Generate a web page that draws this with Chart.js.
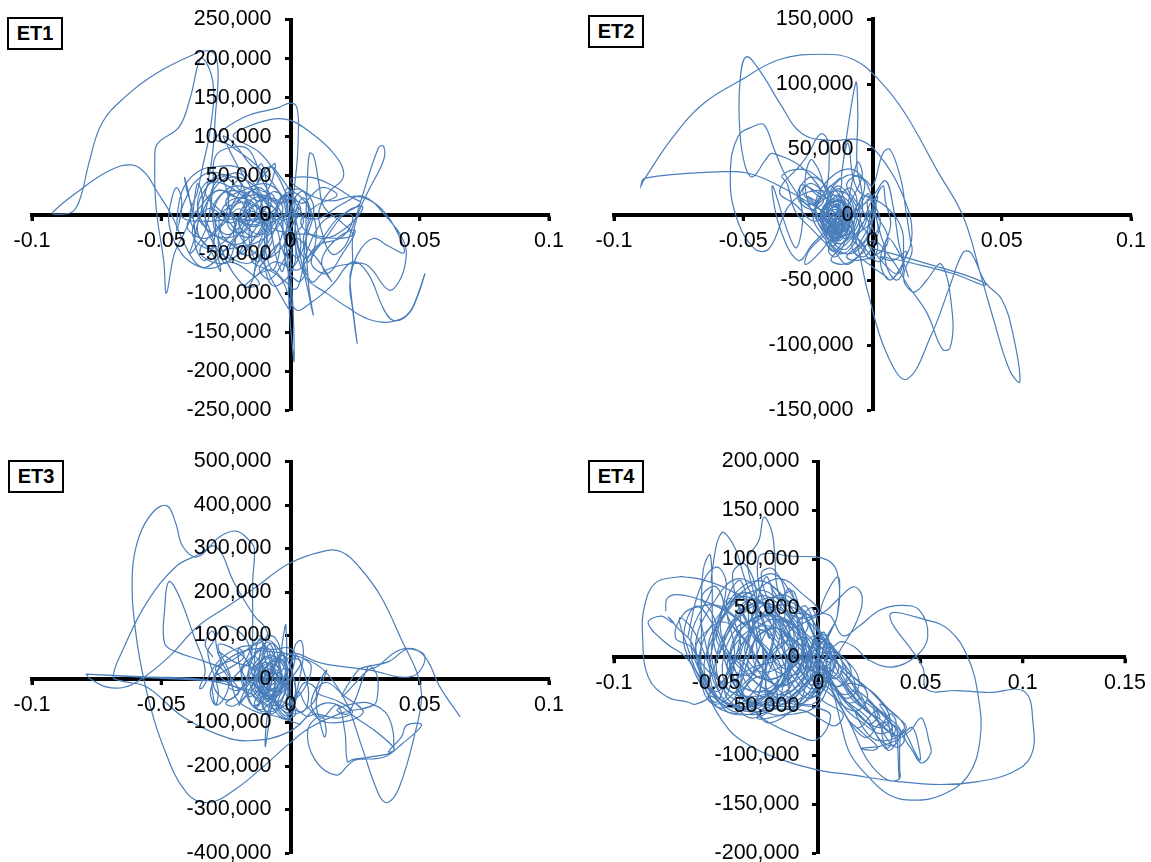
<!DOCTYPE html>
<html>
<head>
<meta charset="utf-8">
<script src="https://cdn.jsdelivr.net/npm/chart.js@4"></script>
<style>
  html, body { margin: 0; padding: 0; background: #fff; }
  body { position: relative; width: 1151px; height: 862px; overflow: hidden; }
  canvas { position: absolute; left: -50px; top: -50px; }
  .tag {
    position: absolute; box-sizing: border-box; height: 33px; width: 56px;
    border: 2px solid #000; background: #fff; color: #000;
    font: bold 20px "Liberation Sans", Arial, sans-serif; line-height: 29px; text-align: center;
  }
</style>
</head>
<body>
<div class="tag" style="left:7px;top:17px">ET1</div>
<div class="tag" style="left:588px;top:15px">ET2</div>
<div class="tag" style="left:8px;top:460px">ET3</div>
<div class="tag" style="left:588px;top:460px">ET4</div>
<canvas id="et1" width="1251" height="962"></canvas>
<canvas id="et2" width="1251" height="962"></canvas>
<canvas id="et3" width="1251" height="962"></canvas>
<canvas id="et4" width="1251" height="962"></canvas>
<script>
// Hysteresis traces, point by point.
// Each pair is [drift in 1/1000, shear in thousands].
const et1Trace = [
  [-22,-30],[-28,-55],[-33,-67],[-37,-60],[-42,-30],[-46,0],[-52,32],[-56,53],[-61.5,64],[-70,57],[-81,33],[-92,3],
  [-89,1],[-84,5],[-81,25],[-78,66],[-73,117],[-64,151],[-52,181],[-37,206],[-32,210],[-29,204],[-28,177],[-29,130],
  [-30,83],[-32,40],[-34,10],[-30,-30],[-27,-72],[-31,-45],[-36,-25],[-39,-2],[-36,30],[-34,62],[-31,110],[-30,170],
  [-34.5,200],[-38.7,151],[-43,113],[-51.5,91],[-52.5,70],[-52,10],[-49,-60],[-48,-100],[-45,-50],[-41,-22],[-38,5],
  [-40,30],[-41,48],[-39,20],[-37,-25],[-39,-50],[-33,-20],[-30,35],[-29,75],[-22,87],[-16,83],[-11,45],[-7.5,17],
  [-12,-20],[-18,-45],[-24,-55],[-30,-35],[-33,0],[-28,40],[-20,48],[-12,30],[-8,0],[-12,-35],[-16,-91],[-22,-75],
  [-27,-40],[-30,0],[-25,32],[-17,35],[-11,12],[-14,-20],[-21,-38],[-27,-22],[-26,10],[-19,22],[-13,8],[-18,-22],
  [-24,-15],[-22,12],[-15,14],[-10,-8],[-13,-28],[-20,-12],[-16,8],[-8,22],[-3,10],[-6,-18],[-10,-50],[-7,-90],
  [0,-75],[2,-40],[-2,-10],[-6,15],[-14,30],[-26,100],[-22,92],[-14,60],[-11,65],[-9,30],[-7,-30],[-5,-60],[-3,-72],
  [-1,-30],[1,18],[5,30],[7,5],[6,-30],[5,-60],[6,-72],[3,-85],[-2,-60],[-1,-10],[2,22],[0,-8],[-2,30],[0,35],[1,5],
  [3,-40],[6,-85],[8.8,-128],[7,-90],[6,-20],[6.5,40],[7.4,79],[9,75],[11,40],[13,10],[20,-10],[24,-25],[18,-30],
  [8,-25],[0,-20],[-3,20],[-12,60],[-24,90],[-29,98],[-18,125],[-5,137],[0,143],[2.5,137],[3,100],[2,50],[0,20],
  [-5,50],[-12,80],[-22,100],[-20,108],[-8,122],[0,121],[8,105],[15,85],[20,62],[20,45],[15,30],[11,5],[12,-20],
  [16,-50],[21,-40],[24,-15],[26,5],[34,86],[36,88],[36,70],[30,30],[26,0],[24,-30],[24,-62],[23,-80],[24.5,-130],
  [25.8,-164],[24,-120],[23,-85],[26,-50],[32,-30],[38,-40],[44,-48],[41,-20],[36,5],[30,20],[24,24],[16,18],[8,25],
  [0,45],[8,48],[16,38],[24,22],[27,15],[18,-5],[6,-55],[2,-30],[8,-85],[14,-70],[24,-62],[30,-65],[38,-96],[42,-85],
  [44.5,-60],[44,-35],[37,-2],[28,24],[20,14],[10,-5],[-2,0],[-1,-60],[-0.5,-120],[0.5,-160],[1.4,-187],[1,-120],[0,-60],
  [2,-5],[0,5],[-8,-10],[-20,-5],[-33,-8],[-42,-2],[-40,25],[-37,42],[-30,55],[-22,40],[-16,10],[-18,-20],[-28,-28],
  [-34,-10],[-36,15],[-33,40],[-27,48],[-19,52],[-13,15],[-9,-22],[-11,-60],[-4,-38],[0,-120],[-6,-90],[-12,-55],
  [-15,-60],[-4,-80],[2,-121],[8,-112],[16,-90],[24,-60],[30,-75],[36,-120],[40,-135],[46,-125],[50,-95],[52,-75]
];
const et1Cluster = [
  [-38,-5],[-36,40],[-34,18],[-37,-35],[-33,-58],[-29,-20],[-31,25],[-27,46],[-24,15],[-28,-30],[-25,-62],[-21,-25],[-24,20],[-20,44],
  [-17,12],[-22,-18],[-19,-50],[-15,-30],[-18,10],[-14,33],[-11,8],[-16,-20],[-13,-60],[-9,-35],[-12,5],[-8,28],[-5,5],[-10,-25],
  [-7,-70],[-4,-40],[-6,0],[-3,25],[0,8],[-2,-30],[1,-65],[4,-40],[2,2],[5,22],[8,0],[5,-30],[7,-60],[10,-20],[6,15],[0,30],[-6,18],
  [-12,35],[-20,22],[-28,32],[-35,10],[-40,-15],[-33,-30],[-26,-12],[-20,8],[-14,-8],[-8,12],[-2,-6],[3,10],[-1,-20],[-8,-15],[-15,5],
  [-23,-10],[-30,5],[-26,28],[-19,30],[-12,18],[-6,30],[-1,12],[-5,-15],[-13,-35],[-22,-42],[-30,-45],[-36,-20],[-32,8],[-25,-5],
  [-18,-28],[-11,-18],[-16,15],[-23,35],[-30,42],[-33,28],[-28,8],[-21,-8],[-26,-35],[-33,-42],[-38,-22],[-34,5],[-29,30],[-22,25],
  [-17,2],[-24,-25],[-29,-8],[-24,10],[-17,24],[-10,25],[-4,15],[1,22],[4,5],[1,-10],[-3,-40],[-9,-55],[-15,-45],[-20,-18],[-13,-5],
  [-7,-30],[-11,-48],[-17,-62],[-24,-48],[-19,-20],[-14,12],[-9,2],[-4,-12],[0,-45],[3,-55],[6,-30],[9,5],[7,25],[2,33],[-3,18],
  [-9,-8],[-16,-14],[-23,5],[-19,38],[-26,52],[-32,38],[-36,2],[-31,-22],[-24,-35],[-16,-52],[-10,-30],[-5,-5],[-1,5],[-4,28],[-10,40],
  [-18,32],[-25,18],[-20,-5],[-12,-25],[-7,-8],[-11,22],[-16,30],[-21,14],[-27,-12],[-32,-30],[-35,-48],[-28,-62],[-22,-55],[-18,-35],
  [-20,-2],[-14,22],[-8,15],[-3,-15],[-6,-45],[-12,-68],[-8,-82],[-3,-60],[2,-25],[5,-8],[2,15],[-2,25],[-6,8],[-13,-12],[-19,-5],[-15,20]
];
const et1Sweep = [
  [52,-75],[49,-105],[45,-128],[38,-137],[30,-133],[22,-118],[14,-100],[6,-80],[2,-30],[10,-55],[16,-85],[12,-60],[18,-30],[25,-20],[20,-50],
  [14,-75],[8,-60],[14,-28],[22,5],[28,10],[22,-15],[12,-30],[4,-10],[10,12],[18,25],[12,35],[4,15],[-3,45],[-8,62],[-13,40],[-6,66],[-10,30],
  [-20,60],[-28,62],[-36,55],[-42,30],[-44,-20],[-42,15],[-44,35],[-46,20],[-47,-12],[-42,-50],[-36,-65],[-30,-68],[-24,-60],[-18,-68],[-12,-88],
  [-18,-92],[-8,-70],[-2,-85],[2,-95],[4,-80],[6,-50],[12,-10],[18,0],[24,-2],[20,-28],[10,-40],[3,-70],[-6,-60],[-14,-78],[-10,-40]
];

const et2Trace = [
  [-16,-1],[-36,22],[-48.5,32],[-58.5,33],[-88,28],[-89.6,22],[-88,28],[-77,60],[-65.5,85],[-51,103],[-36,119],[-19,123],
  [-7.4,119],[2.6,103],[12.5,78],[25,34],[35,-1],[42,-47],[46.5,-78],[53,-119],[57,-128],[54.3,-91],[50,-65],[43.7,-52],
  [38,-29],[35,-29],[29.5,-57],[23,-91],[13.2,-126],[5.4,-106],[-1.7,-60],[-7.4,-14],[-14,6],[-22,18],[-28,22],[-27,-5],
  [-30,-25],[-38.6,22],[-36,-9],[-28.7,-35],[-23,-22],[-16,-9],[-10,0],[-18,18],[-31,10],[-40,-26],[-45.7,-26],[-52.8,-1],
  [-55,32],[-52,60],[-45.7,68],[-42,69],[-38,50],[-33,28],[-24,5],[-14,-5],[-25,32],[-38.6,47],[-41.4,42],[-46.4,29],
  [-49.2,37],[-51.3,63],[-51.3,101],[-48.8,121],[-42.8,108],[-35.7,85],[-27.2,62],[-15.9,57],[-4.5,57],[4,42],[12.5,11],
  [15.3,-14],[12.5,-34],[6.8,-50],[3,-35],[7,-8],[5,10],[4,22],[0,5],[-2,-20],[1,-30],[10,-45],[12,-20],[10,-5],[4,8],
  [-6,20],[-9.5,55],[-12,30],[-6.5,101],[-5.7,78],[-6,37],[-4,15],[-5,-5],[-12,-22],[-19,-14],[-22,10],[-14,32],[-6,33],
  [0,10],[-2,-18],[-10,-30],[-18,-15],[-17,15],[-10,30],[-3,27],[0,22],[4,47],[6.8,50],[11,27],[12.5,9],[14.6,-19],[15.3,-28],
  [12,-48],[15.3,-59],[18,-57],[21,-50],[26.7,-38],[31,-78],[30,-102],[27,-103],[21,-75],[14,-55],[7,-33],[0,-20],[-6,-33],
  [-10,-38],[-14,-30],[-24,-10],[-30,3],[-33,24],[-35,30],[-28,35],[-22,30],[-16,12],[-22,-5],[-30,8],[-36,18],[-28,38],
  [-25,46],[-20,62],[-17,55],[-18,20],[-21,35],[-24,42],[-26,20],[-21,-6],[-14,-18],[-10,-2],[-16,22],[-20,10],[-25,14],
  [-22,8],[-18,-2],[-12,-14],[-8,5],[-14,15],[-22,4],[-15,-12],[-9,-10],[-12,10],[-19,6],[-16,-8],[-10,-18],[-7,3],[-13,22],
  [-18,8],[-19,-6],[-13,-14],[-9,4],[-15,10],[-20,-2],[-16,-14],[-11,-6],[-14,7],[-19,2],[-15,-10],[-12,-4],[-17,4],[-14,-8],
  [-10,-12],[-6,0],[-4,14],[1,10],[0,-5],[-4,-12],[-8,-18],[-4,-26],[-1,-34],[2,-25],[-1,-4],[-2,12],[1,5],[-5,-22],[-10,-32],
  [-6,-35],[2,-30],[6,-20],[3,-5],[-1,3],[-3,-8],[-8,-25],[0,-40],[5,-47],[7,-50],[11,-40],[13,-28],[8,-35],[3,-32],[15,-37],
  [31,-45],[43,-54],[44,-53],[37,-47],[22,-38],[8,-30],[0,-26]
];
const et2Cluster = [
  [-15,-5],[-18,6],[-13,14],[-10,0],[-14,-14],[-19,-8],[-16,8],[-11,10],[-9,-6],[-13,-18],[-18,-12],[-20,2],[-15,12],[-10,6],[-8,-10],
  [-12,-22],[-17,-16],[-20,-4],[-17,10],[-12,4],[-13,-10],[-17,-6],[-15,4],[-11,-2],[-12,-14],[-16,-20],[-19,-10],[-17,2],[-13,8],[-10,-4],
  [-11,-16],[-15,-12],[-16,-2],[-13,2],[-14,-8],[-18,-4],[-16,14],[-13,20],[-11,12],[-9,2],[-7,-14],[-10,-26],[-14,-24],[-17,-14],[-20,-6],
  [-22,6],[-19,16],[-15,24],[-12,28],[-13,12],[-14,-2],[-15,-16],[-17,-28],[-14,-32],[-11,-22],[-9,-8],[-6,8],[-8,20],[-11,18],[-13,4],
  [-15,-8],[-13,-20],[-10,-12],[-8,2],[-5,-8],[-7,-22],[-12,-30],[-16,-24],[-20,-14],[-23,-2],[-20,12],[-15,18],[-10,16],[-6,4],[-7,-10],
  [-11,-20],[-15,-28],[-18,-20],[-16,-6],[-11,4],[-14,-4],[-17,-10],[-13,-16],[-9,-14],[-11,-4],[-14,6],[-18,0],[-16,-10],[-12,-8],
  [-5,10],[-3,24],[-6,30],[-10,22],[-4,4],[-1,-10],[-3,-20],[-7,-28],[-3,-32],[1,-20],[3,-4],[0,10],[-2,16],[-5,2],[-2,-14],[2,-12],[0,2],
  [-3,-4],[-6,-16],[-2,-28],[2,-36],[5,-30],[3,-14],[1,4],[2,14],[-1,8],[-4,-8],[-9,-20],[-16,-34],[-12,-38],[-7,-34],[-3,-24],
  [-24,10],[-27,18],[-24,24],[-20,18],[-23,8],[-28,12],[-26,22],[-22,16],[-19,10],[-24,4],[-29,14],[-25,28],[-20,26],[-17,14]
];
const et2Sweep = [
  [-16,-3],[-14,-10],[-16,-16],[-18,-8],[-15,-1],[-13,-6],[-15,-13],[-17,-5],[-14,2],[-12,-9],[-14,-17],[-17,-12],[-18,-2],[-15,6],[-12,0],[-12,-12],
  [-15,-20],[-18,-16],[-16,-7],[-13,-3],[-14,-12],[-17,-18],[-15,-24],[-13,-14],[-15,-4],[-17,-1],[-15,-9],[-13,-12],[-15,-7],[-17,-14],[-14,-20],[-12,-16],
  [-6,40],[-4,30],[-9,8],[-14,-12],[-20,-28],[-26,-38],[-24,-26],[-12,-6],[0,14],[5,26],[8,6],[10,-20],[12,-42],[9,-50],[5,-36],[6,-18],[11,-32],[14,-48]
];

const et3Trace = [
  [-79,11],[-77.8,2],[-71.4,-18],[-64.3,-19],[-57.2,2],[-47,51],[-36,120],[-24.6,166],[-13.2,212],[-0.4,266],[12.3,293],
  [19.4,293],[26.5,258],[35,189],[43.6,82],[49,13],[50.7,-41],[48.5,-117],[42.2,-247],[37.6,-284],[34.3,-267],[28,-163],
  [22.3,-64],[18,-18],[12,25],[4,50],[-6,62],[-14,60],[-10,20],[-16,-10],[-20,-60],[-18,-45],[-14,-20],[-12,30],[-10,70],
  [-9,98],[-6,95],[-4,60],[-7,20],[-11,-25],[-14,-58],[-11,-70],[-5,-30],[-2,15],[-1.8,124],[-3,90],[-4,40],[-6,-10],[-9.7,-155],
  [-8,-60],[-4,-50],[0,-60],[2,-20],[0,30],[1,55],[2,80],[4,88],[5,60],[4,15],[2,-40],[0,-90],[-4,-80],[-6,-50],[-5,-15],[-1,5],
  [-3,-30],[-8,-40],[-12,-10],[-14,15],[-9,50],[-5,30],[-3,0],[-6,-35],[-11,-55],[-15,-30],[-13,5],[-8,30],[-2,-15],[-6,-60],
  [-12,-45],[-16,0],[-12,40],[-7,55],[-2,20],[-1,-35],[-5,-70],[-13,-70],[-17,-30],[-20,40],[-20,70],[-18,50],[-25,20],[-30,0],
  [-29,-60],[-28,-25],[-32,60],[-30,85],[-26,120],[-22,117],[-17,90],[-15,55],[-14.6,228],[-14,300],[-16,319],[-21,340],[-27.4,327],
  [-35.9,281],[-41.6,304],[-44.4,358],[-47.7,398],[-53,385],[-58.6,327],[-61.2,243],[-60,113],[-55.8,-25],[-48.7,-163],[-40,-263],
  [-31.7,-284],[-21.7,-255],[-10.4,-201],[-0.4,-148],[8.1,-110],[19.4,-79],[32.2,-60],[33.6,-40],[33.6,5],[30.8,30],[29.4,21],[22.3,-79],
  [18,-71],[25.1,-56],[30.8,-56],[37.9,-87],[40,-163],[37.9,-167],[42.9,-133],[45,-106],[50.7,-106],[43,-150],[36,-180],[25.1,-186],
  [22.3,-198],[17.7,-221],[9.5,-186],[6.7,-117],[12,-85],[13.8,-117],[13.1,-133],[11,-94],[8,-60],[10,-20],[14,20],[10,-50],[12,-90],
  [18,-60],[21,-120],[22,-190],[24,-185],[30,-180],[40,-165],[36,-135],[28,-100],[14,-55],[-0.4,-121],[-16,-142],[-27.4,-129],[-41.6,-87],
  [-55.8,-18],[-65,-5],[-68.6,5],[-64.3,74],[-55.8,174],[-44.4,258],[-35.9,285],[-28.8,304],[-21.7,220],[-14,145],[-10,120],[-9,100],
  [-13,80],[-20,72],[-28,40],[-34,-20],[-35.2,-21],[-33,21],[-37.3,97],[-43,189],[-47,224],[-48.7,159],[-48.7,82],[-44.4,63],[-33.1,40],
  [-26,20],[-24,-20],[-28.5,-60],[-31,-30],[-27,40],[-28,62],[-22,40],[-14,20],[-20,-25],[-24,-15],[-16,40],[-10,80],[-13,60],[-19,25],
  [-14,-15],[-8,-45],[0,-80],[8,-60],[10,-25],[5,-10],[0,-70],[-6,-50],[-10,-30],[-9,15],[-3,45],[4,40],[-1,-5],[-6,-30],[-12,5],[-8,50],
  [-2,35],[-4,-10],[-10,-30],[-33,-2],[-55.8,5],[-79,11],[-60,5],[-40,-1],[-20,-4],[-4,15],[-0.4,59],[12.3,36],[30,21],[47,6],[52,51],[45.7,70],
  [40,60],[34,30],[30,20],[20,-40],[26,20],[29,28],[38,40],[45.7,70],[52,51],[57.8,-18],[65.6,-87]
];
const et3Cluster = [
  [-8,0],[-12,45],[-9,85],[-6,50],[-8,-20],[-13,-65],[-10,-30],[-6,35],[-3,62],[-2,10],[-6,-50],[-9,-75],[-12,-35],[-14,30],[-12,92],[-9,60],
  [-7,5],[-10,-45],[-15,-60],[-17,-10],[-14,55],[-10,75],[-5,40],[-3,-15],[-5,-62],[-1,-85],[2,-40],[0,25],[-3,55],[-7,25],[-11,-15],[-16,-40],
  [-19,5],[-16,60],[-12,100],[-10,50],[-8,-8],[-11,-60],[-7,-80],[-3,-45],[-1,5],[-4,45],[-9,30],[-13,-5],[-10,-40],[-5,-20],[-6,20],[-10,38],
  [-14,8],[-12,-28],[-7,-35],[-4,0],[-7,15],[-11,-6],[-8,-25],[-3,-5],[0,32],[2,55],[0,-10],[1,-65],[5,-75],[7,-35],[5,20],[2,58],[-1,72],[-6,68],
  [-13,70],[-20,60],[-26,35],[-30,-8],[-25,-48],[-19,-22],[-16,28],[-21,65],[-28,78],[-24,20],[-21,-45],[-17,-65],[-12,-78],[-6,-85],[0,-95],
  [-4,-65],[-10,-18],[-15,15],[-11,58],[-7,82],[-4,30],[-2,-30],[2,-80],[-3,-90],[-8,-55],[-12,-12],[-9,22],[-5,8],[-8,-14],[-12,18],[-16,40],
  [-13,-10],[-9,-45],[-4,-30],[-1,20],[-5,72],[-10,92],[-15,75],[-22,45],[-29,25],[-24,-10],[-15,-35],[-7,-68],[1,-50],[6,-15],[8,30],[5,48]
];
const et3Sweep = [
  [-30,50],[-33,80],[-30,110],[-28,60],[-24,10],[-20,-30],[-25,-55],[-22,-62],[-17,-35],[-12,25],[-9,65],[-7,30],[-9,-18],[-8,-48],[-6,-12],[-7,18],[-5,48],
  [-8,40],[-10,8],[-7,-22],[-5,5],[-9,15],[-11,-22],[-9,-52],[-6,-28],[-4,12],[-7,35],[-11,28],[-14,-12],[-11,-42],[-6,-42],[-2,-8],[0,-50],[6,-85],[10,-80],
  [18,-90],[24,-75],[18,-50],[10,-30],[14,-8],[20,-35],[28,-78],[14,-100],[6,-60],[3,-30],[-1,-90],[4,-105]
];

const et4Trace = [
  [-74.7,47],[-74,60],[-68.9,64],[-58.1,59],[-43.8,45],[-30,20],[-18,-15],[-30,-45],[-45,-50],[-55,-25],[-60,15],[-50,60],[-40,80],[-30,70],
  [-20,35],[-12,0],[-20,-30],[-35,-40],[-48,-25],[-52,15],[-42,62],[-28,78],[-15,55],[-6,20],[-5,-15],[-18,-40],[-38,-50],[-55,-30],[-58,5],
  [-48,45],[-34,72],[-22,85],[-12,60],[-4,30],[0,0],[-8,-30],[-24,-48],[-42,-42],[-50,-10],[-44,30],[-32,55],[-18,48],[-8,18],[-10,-12],
  [-25,-35],[-40,-25],[-42,10],[-30,42],[-16,36],[-10,5],[-22,-22],[-34,-12],[-30,20],[-18,28],[-14,0],[-28,-15],[-36,10],[-24,38],[-10,30],
  [0,5],[-4,-25],[-20,-50],[-36,-55],[-50,-40],[-60,-5],[-62,25],[-52,70],[-52.4,82],[-47.4,127],[-41.1,113],[-36,80],[-30,50],[-24,20],[-34.8,96],
  [-29,120],[-26.7,143],[-23,130],[-21.4,106],[-20,70],[-14,45],[-6,40],[0,48],[-8,65],[-18,80],[-28,72],[-38,48],[-46,20],[-44,-15],[-36,-40],
  [-20,-50],[-6,-45],[2,-20],[4,10],[-2,35],[-12,55],[-26,60],[-40,40],[-50,5],[-52.8,104],[-56.4,89],[-57.2,28],[-56.4,-33],[-50,-48],[-38,-30],
  [-24,0],[-14,25],[-24,50],[-38,62],[-46,45],[-54,10],[-48,-25],[-30,-48],[-14,-52],[-2,-35],[-4,-5],[-14,22],[-28,32],[-40,15],[-44,-15],[-30,-35],
  [-18,-20],[-12,10],[-22,30],[-32,12],[-28,-18],[-16,-28],[-6,-10],[-10,15],[-20,12],[-24,-8],[-12,-18],[-4,2],[-8,24],[-20,42],[-34,36],[-43,8],
  [-40,-32],[-26,-56],[-12,-58],[0,-48],[6,-15],[3,15],[-4,8],[-7,-12],[1,-8],[8,-22],[12,-8],[5,12],[-2,22],[-8,5],[-2,-14],[6,-4],[4,16],
  [-2,30],[-10,45],[-14,25],[-6,2],[2,-18],[10,-30],[16,-14],[8,8],[0,18],[-6,-6],[4,-25],[14,-42],[20,-25],[12,0],[2,10],[-4,-18],[6,-38],[18,-55],
  [24,-38],[14,-15],[4,0],[8,-30],[20,-60],[30,-72],[35,-62],[28,-40],[16,-18],[8,-6],[16,-36],[28,-62],[38,-80],[42,-70],[34,-52],[24,-32],[14,-28],
  [22,-52],[33,-68],[38,-85],[34,-95],[26,-72],[18,-55],[26,-82],[36,-84],[43,-72],[38,-60],[30,-48],[36,-70],[34,-93],[31,-75],[35,-58],[38,-66],
  [36,-82],[33,-60],[28,-55],[20,-72],[15,-65],[22,-78],[29,-92],[26.5,-95],[20.8,-93],[29.8,-91],[38,-85],[45,-75],[50,-62],[52,-68],[54,-85],
  [55,-98],[50.4,-108],[45.9,-95],[42,-80],[46,-72],[49,-90],[49.5,-105],[41,-75],[39.7,-124],[38.8,-91],[38.5,-72],[39.2,-110],[39.7,-124],[33.4,-125],
  [24,-105],[16,-70],[11,-50],[6,-30],[2,-10],[10,15],[18,10],[24,-2],[36,-10],[47.7,1],[53.5,21],[49.5,48],[40.5,53],[30,48],[20,32],[12,22],[6,42],
  [1,48],[9.7,82],[9.2,42],[6.5,28],[2,5],[6,-5],[12,12],[19,38],[21.4,62],[17.2,72],[10,60],[4,48],[-0.7,42],[-12,30],[-20,20],[-29.4,101],[-11.5,103],
  [4.7,99],[9.7,82],[9.2,42],[4,20],[0,-10],[-10,-35],[-24,-55],[-37,-58],[-50,-50],[-58,-20],[-65.3,1],[-74.3,14],[-83.3,35],[-77,42],[-72,36],
  [-70.7,35],[-73.4,41],[-68,28],[-62,15],[-58,-15],[-53,-38],[-60,-48],[-63.5,-46],[-74.3,-40],[-83.3,-20],[-86,21],[-85.1,52],[-79.7,76],[-68.9,82],
  [-65.3,82],[-56.4,79],[-43.8,69],[-30,50],[-18,20],[-8,-5],[-20,-30],[-34,-50],[-47.4,-44],[-53,-20],[-50,25],[-44,50],[-36,66],[-26,52],[-14,15],
  [-16,-22],[-28,-40],[-38,-12],[-34,25],[-22,52],[-10,48],[-2,20],[-1,-20],[-10,-48],[-24,-67],[-31.2,-54],[-24,-67],[-11.5,-79],[-0.7,-84],[6,-60],
  [0,-52],[-12,-48],[-26,-40],[-40,-56],[-52.8,-40],[-43.8,-74],[-33,-91],[-20.5,-103],[-0.7,-115],[15.4,-120],[38.8,-127],[60,-130],[78,-127],[94.4,-118],
  [104,-101],[105,-67],[100.7,-35],[83.6,-36],[67.5,-34],[53,-33],[51,-10],[35,43],[53,38],[63.9,28],[72.9,1],[78.2,-40],[79.1,-84],[72.9,-122],[60,-141],
  [46.8,-146],[35,-141],[24.4,-122],[15.4,-98],[10.9,-67],[8,-42],[4,-18],[-2,4],[-8,-4]
];
const et4Cluster = [
  [-58,40],[-52,-12],[-46,-42],[-41,5],[-45,55],[-38,78],[-34,25],[-38,-30],[-32,-52],[-27,-5],[-30,52],[-25,82],[-21,30],[-26,-22],[-21,-50],
  [-16,-8],[-19,45],[-14,70],[-10,22],[-15,-25],[-10,-48],[-5,-10],[-8,38],[-3,50],[1,12],[-3,-20],[2,-35],[6,0],[3,25],[-2,18],[-6,-5],[-12,12],
  [-18,38],[-26,55],[-35,48],[-44,25],[-50,-5],[-56,-28],[-62,-8],[-66,22],[-60,52],[-52,35],[-46,5],[-38,-18],[-28,-8],[-22,18],[-30,36],[-40,30],
  [-47,-8],[-43,-35],[-35,-28],[-30,8],[-36,42],[-44,60],[-48,30],[-42,-5],[-34,-45],[-24,-42],[-16,-15],[-12,25],[-20,55],[-29,62],[-32,30],[-24,2],
  [-14,-12],[-6,15],[-11,42],[-17,62],[-23,72],[-16,50],[-8,28],[-1,5],[4,-18],[-1,-40],[-9,-30],[-15,-2],[-8,20],[-3,-2],[-8,-22],[-16,-38],[-28,-30],
  [-38,-8],[-46,12],[-52,45],[-57,62],[-50,72],[-44,40],[-38,12],[-46,-22],[-54,-40],[-47,-52],[-40,-38],[-34,0],[-28,28],[-20,8],[-12,-30],[-4,-42],
  [3,-28],[10,-12],[5,8],[-1,30],[-5,44],[-10,34],[-6,8],[0,-12],[8,-30],[14,-20],[9,5],[3,18],[0,-4],[6,-22],[12,-38],[18,-30],[13,-8],[6,6],[-2,-6],
  [5,-16],[11,-26],[17,-44],[23,-52],[19,-32],[11,-14],[15,-30],[22,-44],[29,-58],[25,-68],[16,-50],[9,-34],[13,-52],[21,-66],[30,-78],[36,-72],[31,-58],
  [24,-44],[33,-60],[40,-74],[37,-90],[30,-84],[24,-62],[12,-42],[5,-24],[-2,-34],[-10,-52],[-20,-60],[-30,-62],[-22,-42],[-14,-30],[-20,-10],[-28,14],
  [-35,35],[-41,65],[-36,58],[-30,25],[-26,-10],[-32,-36],[-42,-50],[-50,-30],[-55,0],[-62,30],[-68,40],[-64,10],[-58,-22],[-50,-46],[-44,-14],[-36,18],
  [-26,42],[-16,30],[-10,-5],[-4,-28],[0,-15],[-5,10],[-13,30],[-21,48],[-13,68],[-9,50],[-3,26],[2,8],[8,-6],[3,-30],[-3,-48],[-14,-42],[-24,-22],
  [-33,10],[-41,38],[-33,60],[-25,48],[-17,18],[-9,-12],[-18,-30],[-30,-20],[-39,-48],[-33,-62],[-22,-52],[-12,-24],[-7,2],[-14,36],[-24,30],[-31,-2]
];
const et4Sweep = [
  [-64,20],[-58,70],[-50,92],[-45,75],[-50,30],[-56,-10],[-50,-35],[-42,-10],[-38,35],[-42,85],[-36,95],[-30,60],[-34,15],[-40,-35],[-32,-46],[-26,-12],
  [-22,35],[-28,85],[-22,90],[-16,60],[-20,10],[-26,-35],[-18,-48],[-10,-38],[-6,-8],[-2,20],[-6,52],[-12,42],[-18,15],[-10,-20],[-2,-32],[4,-10],[2,14],
  [-3,4],[-6,-14],[-1,-26],[5,-18],[8,-4],[4,6],[-1,10],[-4,-6],[1,-18],[7,-12],[5,2],[0,6],[-3,16],[2,24],[6,12],[10,-8],[16,-26],[20,-42],[14,-46],[7,-28],
  [2,-8],[9,-18],[16,-38],[24,-56],[30,-62],[26,-46],[18,-34],[26,-58],[34,-76],[40,-80],[34,-64],[27,-50],[32,-78],[38,-92],[42,-84],[36,-68],[30,-68],
  [24,-82],[18,-74],[10,-48],[4,-30],[-4,-36],[-14,-46],[-24,-36],[-34,-20],[-44,2],[-50,20],[-44,48],[-34,66],[-24,66],[-14,42],[-8,8],[-16,-16],[-28,-22],
  [-40,-2],[-46,-34],[-38,-52],[-28,-50],[-20,-26],[-26,6],[-34,30],[-28,52],[-18,64],[-10,54],[-5,32],[-13,12],[-22,-4],[-32,-10],[-44,-26],[-52,-18],
  [-60,8],[-54,28],[-46,36],[-38,22],[-30,-4],[-20,-40],[-30,-56],[-42,-58],[-48,-48],[-56,-18],[-62,10],[-70,20],[-66,44],[-58,52],[-48,52],[-36,34],
  [-24,24],[-16,4],[-6,-22],[2,-44],[12,-58],[8,-70],[0,-62],[-8,-54],[-20,-54]
];

const et1XTicks = [-0.1, -0.05, 0, 0.05, 0.1];
const et1YTicks = [250000, 200000, 150000, 100000, 50000, 0, -50000, -100000, -150000, -200000, -250000];
const et2XTicks = [-0.1, -0.05, 0, 0.05, 0.1];
const et2YTicks = [150000, 100000, 50000, 0, -50000, -100000, -150000];
const et3XTicks = [-0.1, -0.05, 0, 0.05, 0.1];
const et3YTicks = [500000, 400000, 300000, 200000, 100000, 0, -100000, -200000, -300000, -400000];
const et4XTicks = [-0.1, -0.05, 0, 0.05, 0.1, 0.15];
const et4YTicks = [200000, 150000, 100000, 50000, 0, -50000, -100000, -150000, -200000];

const lineColor = "#4a7ebb";
const tickFont = { family: '"Liberation Sans", Arial, sans-serif', size: 21.5 };

// Chart.js ignores ticks.padding on an axis crossing at a value, so the y labels are moved by hand
const yLabelGap = {
  id: "yLabelGap",
  afterLayout(chart) {
    chart.scales.y.getLabelItems().forEach((item) => { item.options.translation[0] -= 19 })
  }
}

// Short black nubs under the x axis line
const xTickMarks = {
  id: "xTickMarks",
  beforeDatasetsDraw(chart) {
    const { ctx, scales } = chart
    const top = scales.y.getPixelForValue(0)
    ctx.save()
    ctx.fillStyle = "#000"
    scales.x.ticks.forEach((tick) => {
      ctx.fillRect(scales.x.getPixelForValue(tick.value) - 1.5, top, 3, 6)
    })
    ctx.restore()
  }
}

function axisOptions(ticks, crossing, format) {
  return {
    type: "linear",
    position: crossing,
    min: Math.min(...ticks),
    max: Math.max(...ticks),
    afterBuildTicks: (axis) => { axis.ticks = ticks.map((value) => ({ value })) },
    border: { display: true, color: "#000", width: 4 },
    grid: { drawOnChartArea: false, drawTicks: true, tickColor: "#000", tickWidth: 3, tickLength: 4 },
    ticks: { autoSkip: false, maxRotation: 0, color: "#000", font: tickFont, padding: 9, z: 1, callback: format }
  }
}

function traceDataset(trace) {
  return {
    data: trace.map(([x, y]) => ({ x: x / 1000, y: y * 1000 })),
    showLine: true,
    borderColor: lineColor,
    borderWidth: 1.2,
    tension: 0.4,
    pointRadius: 0,
    clip: false
  }
}

function drawPanel(id, traces, xTicks, yTicks, area) {
  new Chart(document.getElementById(id), {
    type: "scatter",
    data: { datasets: traces.map(traceDataset) },
    options: {
      responsive: false,
      animation: false,
      // the canvas hangs 50px past each page edge
      layout: { padding: { left: area.left + 50, top: area.top + 50, right: 1201 - area.right, bottom: 912 - area.bottom } },
      plugins: { legend: { display: false }, tooltip: { enabled: false } },
      scales: {
        x: axisOptions(xTicks, { y: 0 }, (v) => String(v)),
        y: axisOptions(yTicks, { x: 0 }, (v) => v.toLocaleString("en-US"))
      }
    },
    plugins: [yLabelGap, xTickMarks]
  })
}

drawPanel("et1", [et1Trace, et1Cluster, et1Sweep], et1XTicks, et1YTicks, { left: 32, right: 549, top: 19.5, bottom: 410.5 });
drawPanel("et2", [et2Trace, et2Cluster, et2Sweep], et2XTicks, et2YTicks, { left: 614, right: 1131, top: 19, bottom: 410.5 });
drawPanel("et3", [et3Trace, et3Cluster, et3Sweep], et3XTicks, et3YTicks, { left: 32, right: 549, top: 461.5, bottom: 853 });
drawPanel("et4", [et4Trace, et4Cluster, et4Sweep], et4XTicks, et4YTicks, { left: 614, right: 1125, top: 461.5, bottom: 853 });
</script>
</body>
</html>
